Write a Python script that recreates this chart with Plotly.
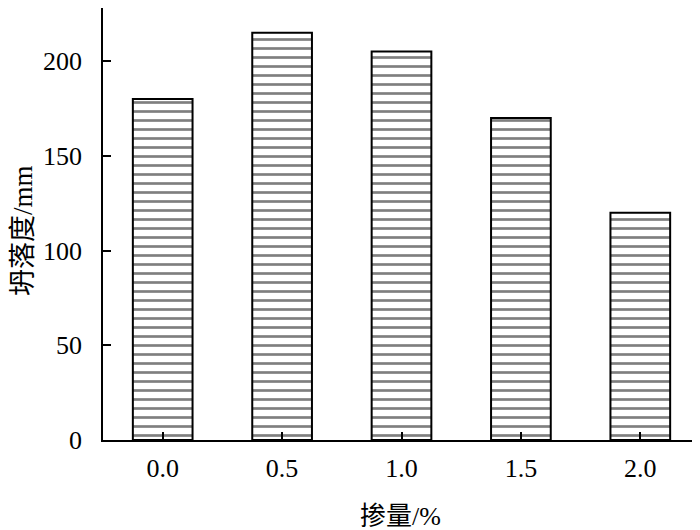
import plotly.graph_objects as go

categories = ["0.0", "0.5", "1.0", "1.5", "2.0"]
slump_mm = [180, 215, 205, 170, 120]
y_ticks = [0, 50, 100, 150, 200]

serif = "Liberation Serif, Times New Roman, Noto Sans CJK SC, serif"

# page body has an 8px default margin; figure is sized to fit the 700x530 window
W, H = 692, 522
L, R, T, B = 95, 0, 0, 90
pw, ph = W - L - R, H - T - B

fig = go.Figure()
fig.add_trace(go.Bar(
    x=categories,
    y=slump_mm,
    width=0.5,
    marker=dict(
        color="white",
        line=dict(color="black", width=2),
        pattern=dict(shape="-", fgcolor="black", bgcolor="white", size=9, solidity=0.3, fillmode="overlay"),
    ),
))

fig.update_layout(
    width=W, height=H,
    margin=dict(l=L, r=R, t=T, b=B, autoexpand=False),
    paper_bgcolor="white", plot_bgcolor="white",
    showlegend=False,
    font=dict(family=serif, size=26, color="black"),
    xaxis=dict(
        type="category", range=[-0.5, 4.5],
        showline=True, linecolor="black", linewidth=1.5,
        ticks="inside", ticklen=8, tickcolor="black", tickwidth=1.5,
        showgrid=False, zeroline=False,
        tickfont=dict(family=serif, size=26),
        ticklabelstandoff=4,
    ),
    yaxis=dict(
        range=[0, 228],
        tickvals=y_ticks,
        showline=True, linecolor="black", linewidth=1.5,
        ticks="inside", ticklen=8, tickcolor="black", tickwidth=1.5,
        showgrid=False, zeroline=False,
        tickfont=dict(family=serif, size=26),
        ticklabelstandoff=14,
    ),
    annotations=[
        dict(text="掺量/%", xref="paper", yref="paper",
             x=(392 - L) / pw, y=(T + ph - 508) / ph,
             xanchor="center", yanchor="middle", showarrow=False,
             font=dict(family=serif, size=26)),
        dict(text="坍落度/mm", xref="paper", yref="paper", textangle=-90,
             x=(15 - L) / pw, y=(T + ph - 223) / ph,
             xanchor="center", yanchor="middle", showarrow=False,
             font=dict(family=serif, size=27)),
    ],
)

fig.write_html("out.html")
